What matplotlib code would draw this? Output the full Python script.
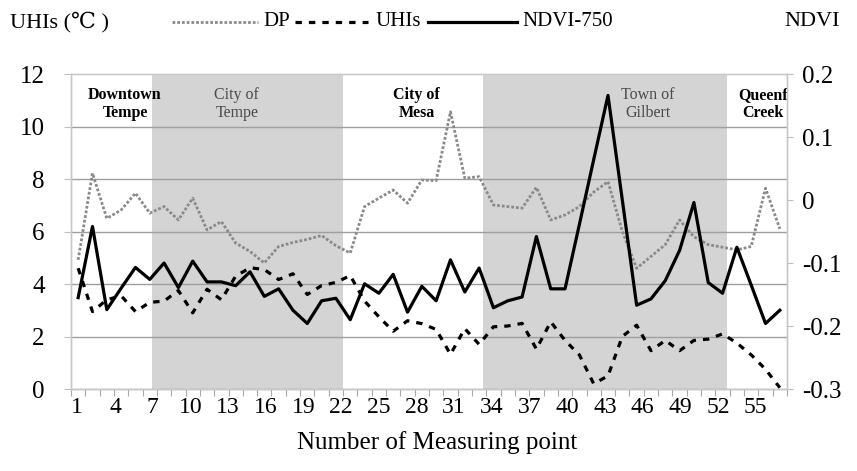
import numpy as np
import matplotlib
matplotlib.use("Agg")
import matplotlib.pyplot as plt
from matplotlib.lines import Line2D

plt.rcParams['font.family'] = ['Liberation Serif', 'DejaVu Serif', 'DejaVu Sans']
plt.rcParams['axes.unicode_minus'] = False

# ---------------- data ----------------
n_categories = 57
tick_labels = [str(v) for v in range(1, 56, 3)]
uhi_ticks = [0, 2, 4, 6, 8, 10, 12]
ndvi_ticks = [-0.3, -0.2, -0.1, 0.0, 0.1, 0.2]

dp_values = [4.92, 8.22, 6.5, 6.82, 7.46, 6.7, 6.95, 6.44, 7.27, 6.06,
             6.38, 5.56, 5.24, 4.8, 5.43, 5.58, 5.7, 5.85, 5.46, 5.18,
             6.95, 7.27, 7.58, 7.08, 7.96, 7.94, 10.56, 8.03, 8.09, 7.01,
             6.95, 6.89, 7.68, 6.44, 6.63, 6.95, 7.5, 7.9, 6.0, 4.6,
             5.05, 5.5, 6.44, 5.8, 5.5, 5.4, 5.3, 5.43, 7.65, 6.1]

uhis_values = [4.6, 2.95, 3.4, 3.55, 2.95, 3.3, 3.35, 3.75, 2.9, 3.8,
               3.4, 4.3, 4.62, 4.55, 4.17, 4.39, 3.6, 3.94, 4.06, 4.32,
               3.35, 2.75, 2.2, 2.6, 2.49, 2.27, 1.32, 2.3, 1.7, 2.37,
               2.4, 2.5, 1.52, 2.56, 1.85, 1.3, 0.2, 0.5, 2.0, 2.43,
               1.46, 1.85, 1.46, 1.85, 1.9, 2.1, 1.75, 1.3, 0.75, 0.05]

ndvi_values = [-0.155, -0.042, -0.174, -0.140, -0.107, -0.126, -0.100, -0.139, -0.097, -0.130,
               -0.130, -0.136, -0.114, -0.153, -0.141, -0.175, -0.196, -0.160, -0.156, -0.190,
               -0.133, -0.148, -0.118, -0.178, -0.137, -0.160, -0.095, -0.146, -0.108, -0.171,
               -0.160, -0.154, -0.058, -0.141, -0.141, -0.039, 0.064, 0.166, 0.000, -0.167,
               -0.157, -0.128, -0.080, -0.004, -0.131, -0.148, -0.075, -0.135, -0.196, -0.175]

zone_names = ["Downtown\nTempe", "City of\nTempe", "City of\nMesa", "Town of\nGilbert", "Queenf\nCreek"]
zone_bold = [True, False, True, False, True]
zone_shaded = [False, True, False, True, False]
zone_edges = [0.5, 6.95, 22.16, 33.3, 52.7, 57.5]
zone_label_x = [4.8, 13.7, 28.0, 46.4, 55.6]

# ---------------- figure ----------------
W, H = 857, 471
fig = plt.figure(figsize=(W / 100, H / 100), dpi=100)
L, R, T, B = 71, 787, 74, 389
ax = fig.add_axes([L / W, 1 - B / H, (R - L) / W, (B - T) / H])
ax.set_xlim(0.5, n_categories + 0.5)
ax.set_ylim(uhi_ticks[0], uhi_ticks[-1])

# shaded zones
for i, shaded in enumerate(zone_shaded):
    if shaded:
        ax.axvspan(zone_edges[i], zone_edges[i + 1], color='#d4d4d4', lw=0, zorder=0)

# gridlines
for yv in uhi_ticks[1:-1]:
    ax.axhline(yv, color='#9e9e9e', lw=1.0, zorder=1)

# lines: 50 measuring points spread over the category axis
n_pts = len(dp_values)
line_x = 0.5 + (np.arange(n_pts) + 0.5) * n_categories / n_pts

dp_style = dict(color='#8a8a8a', lw=2.0, linestyle=(0, (1.0, 0.7)))
uhi_style = dict(color='black', lw=2.3, linestyle=(0, (2.0, 2.2)))
ndvi_style = dict(color='black', lw=2.3, linestyle='-')

ax.plot(line_x, dp_values, zorder=3, **dp_style)
ax.plot(line_x, uhis_values, zorder=3, **uhi_style)

ax2 = ax.twinx()
ax2.set_ylim(ndvi_ticks[0], ndvi_ticks[-1])
ax2.plot(line_x, ndvi_values, zorder=4, **ndvi_style)

# zone labels
for name, bold, xc in zip(zone_names, zone_bold, zone_label_x):
    ax.text(xc, 10.85, name, ha='center', va='center', fontsize=11.5,
            fontweight='bold' if bold else 'normal',
            color='black' if bold else '#4a4a4a', linespacing=1.15, zorder=5, clip_on=False)

# axes styling
for a in (ax, ax2):
    for s in a.spines.values():
        s.set_color('#c8c8c8')
        s.set_linewidth(1.0)
ax.spines['bottom'].set_color('#a0a0a0')
ax.spines['top'].set_color('#dcdcdc')

ax.set_yticks(uhi_ticks)
ax.set_yticklabels([str(v) for v in uhi_ticks])
ax.tick_params(axis='y', length=5, color='#bdbdbd', labelsize=18, pad=14)

ax.set_xticks(list(range(1, 56, 3)))
ax.set_xticklabels(tick_labels)
ax.tick_params(axis='x', which='major', length=0, labelsize=17, pad=6)
minor_ticks = 0.5 + np.arange(n_pts + 1) * n_categories / n_pts
ax.set_xticks(minor_ticks, minor=True)
ax.tick_params(axis='x', which='minor', length=5, color='#a8a8a8', width=0.8)

ax2.set_yticks(ndvi_ticks)
ax2.set_yticklabels(['0' if abs(v) < 1e-9 else f'{v:.1f}' for v in ndvi_ticks])
ax2.tick_params(axis='y', length=4, color='#bdbdbd', labelsize=18, pad=7)

fig.text(437 / W, 1 - 443 / H, 'Number of Measuring point', ha='center', va='center', fontsize=18)

# header: axis titles and legend
ly = 1 - 22 / H
fig.text(10 / W, ly, 'UHIs (\u2103 )', ha='left', va='center', fontsize=16)
fig.text(840 / W, ly, 'NDVI', ha='right', va='center', fontsize=16)

fig.add_artist(Line2D([172 / W, 258 / W], [ly, ly], transform=fig.transFigure, **dp_style))
fig.text(263 / W, ly, 'DP', ha='left', va='center', fontsize=15)
fig.add_artist(Line2D([295 / W, 368 / W], [ly, ly], transform=fig.transFigure, **uhi_style))
fig.text(376 / W, ly, 'UHIs', ha='left', va='center', fontsize=15)
fig.add_artist(Line2D([428 / W, 517 / W], [ly, ly], transform=fig.transFigure, **ndvi_style))
fig.text(522 / W, ly, 'NDVI-750', ha='left', va='center', fontsize=15)

fig.savefig('out.png', dpi=100)
